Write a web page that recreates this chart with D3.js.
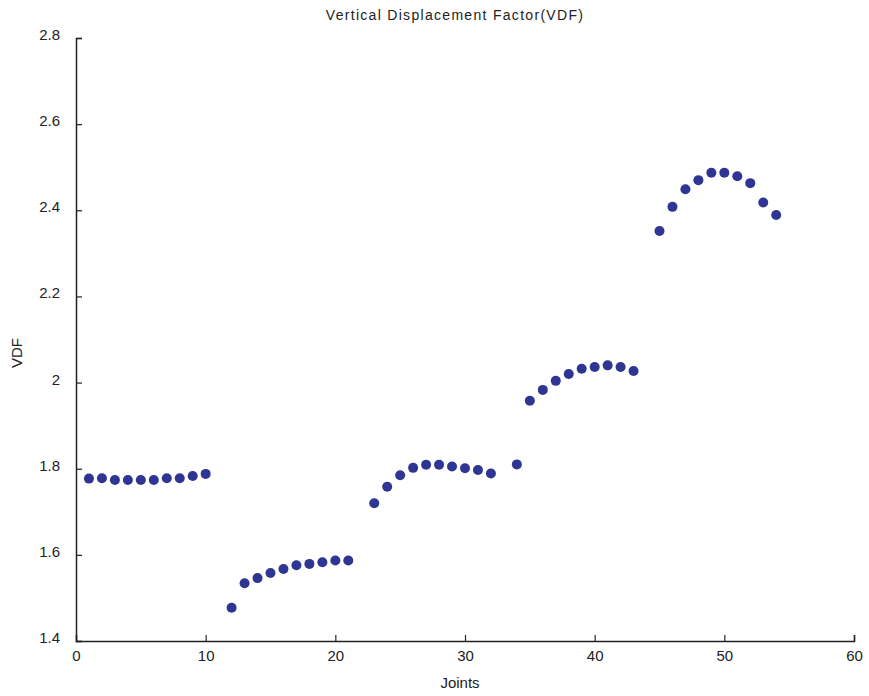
<!DOCTYPE html>
<html><head><meta charset="utf-8">
<script src="https://cdn.jsdelivr.net/npm/d3@7"></script>
<style>body{margin:0;background:#fff;}svg{display:block;}</style>
</head><body>
<script>
const joints = [1,2,3,4,5,6,7,8,9,10, 12,13,14,15,16,17,18,19,20,21, 23,24,25,26,27,28,29,30,31,32, 34, 35,36,37,38,39,40,41,42,43, 45,46,47,48,49,50,51,52,53,54];
const vdf = [1.777,1.778,1.774,1.774,1.774,1.774,1.778,1.778,1.783,1.788,
  1.477,1.534,1.546,1.558,1.567,1.576,1.579,1.583,1.587,1.587,
  1.720,1.758,1.785,1.802,1.809,1.809,1.805,1.801,1.797,1.789,
  1.810,
  1.958,1.983,2.004,2.020,2.032,2.036,2.040,2.036,2.027,
  2.352,2.408,2.449,2.470,2.487,2.487,2.479,2.463,2.418,2.389];
const xTicks = [0,10,20,30,40,50,60];
const yTicks = [1.4,1.6,1.8,2,2.2,2.4,2.6,2.8];
const yTickLabels = ["1.4","1.6","1.8","2","2.2","2.4","2.6","2.8"];

const W = 869, H = 696;
const m = {left: 76, right: 15, top: 38, bottom: 55};
const svg = d3.select("body").append("svg").attr("width", W).attr("height", H);
const x = d3.scaleLinear().domain([0,60]).range([m.left, W - m.right]);
const y = d3.scaleLinear().domain([1.4,2.8]).range([H - m.bottom, m.top]);
const font = "Arial, 'Liberation Sans', sans-serif";

const gx = svg.append("g").attr("transform", `translate(0,${H - m.bottom})`)
  .call(d3.axisBottom(x).tickValues(xTicks).tickSize(-6).tickPadding(6).tickFormat(d3.format("d")));
const gy = svg.append("g").attr("transform", `translate(${m.left},0)`)
  .call(d3.axisLeft(y).tickValues(yTicks).tickSize(-6).tickPadding(16).tickFormat((d,i) => yTickLabels[i]));
[gx, gy].forEach(g => {
  g.select(".domain").attr("stroke", "#222").attr("stroke-width", 1.5);
  g.selectAll(".tick line").attr("stroke", "#222").attr("stroke-width", 1.2);
  g.selectAll("text").attr("fill", "#222").style("font-family", font).style("font-size", "15px");
});
gx.selectAll("text").attr("dy", "0.9em");
gy.selectAll("text").attr("dy", "0.1em");

svg.append("g").selectAll("circle").data(joints).join("circle")
  .attr("cx", (d) => x(d)).attr("cy", (d,i) => y(vdf[i])).attr("r", 5)
  .attr("fill", "#2e3592");

svg.append("text").attr("x", 455).attr("y", 20).attr("text-anchor", "middle")
  .style("font-family", font).style("font-size", "14px").attr("fill", "#222")
  .style("letter-spacing", "1.3px")
  .text("Vertical Displacement Factor(VDF)");
svg.append("text").attr("x", 460).attr("y", 688).attr("text-anchor", "middle")
  .style("font-family", font).style("font-size", "15px").attr("fill", "#222")
  .text("Joints");
svg.append("text").attr("transform", "translate(22,353) rotate(-90)").attr("text-anchor", "middle")
  .style("font-family", font).style("font-size", "15px").attr("fill", "#222")
  .text("VDF");
</script>
</body></html>
